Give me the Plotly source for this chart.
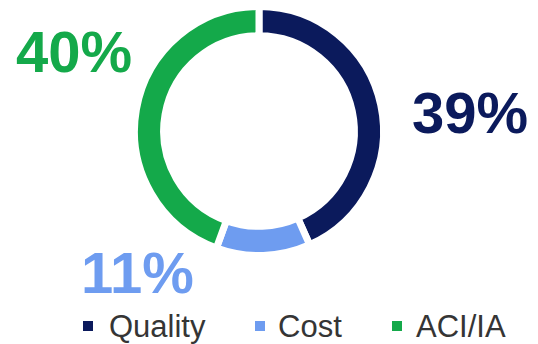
import plotly.graph_objects as go

# Share of focus areas
categories = ["Quality", "Cost", "ACI/IA"]
values = [39, 11, 40]
colors = ["#0b1a5c", "#6e9cf0", "#14a94a"]

W, H = 538, 344

# Where each percentage label sits (paper coordinates)
label_pos = {
    "Quality": (0.874, 0.674),
    "Cost": (0.255, 0.209),
    "ACI/IA": (0.138, 0.849),
}

# Legend row: swatch centre and text start, in pixels from the left
legend_swatch_x = {"Quality": 88, "Cost": 260, "ACI/IA": 397}
legend_text_x = {"Quality": 107, "Cost": 276, "ACI/IA": 414}
legend_y_px = 326
swatch_px = 10

fig = go.Figure(
    go.Pie(
        labels=categories,
        values=values,
        hole=0.766,
        sort=False,
        direction="clockwise",
        rotation=0,
        marker=dict(colors=colors, line=dict(color="white", width=7)),
        textinfo="none",
        hoverinfo="label+value",
        showlegend=False,
        domain=dict(x=[0.2500, 0.7128], y=[0.2558, 0.9826]),
    )
)

for cat, val, col in zip(categories, values, colors):
    x, y = label_pos[cat]
    fig.add_annotation(
        x=x, y=y, xref="paper", yref="paper",
        text=f"{val}%", showarrow=False,
        xanchor="center", yanchor="middle",
        font=dict(family="Liberation Sans, Arial, sans-serif", size=58, color=col, weight="bold"),
    )

# Legend drawn as colour swatches plus names
ly = 1 - legend_y_px / H
for cat, col in zip(categories, colors):
    cx = legend_swatch_x[cat] / W
    hw = swatch_px / 2 / W
    hh = swatch_px / 2 / H
    fig.add_shape(
        type="rect", xref="paper", yref="paper",
        x0=cx - hw, x1=cx + hw, y0=ly - hh, y1=ly + hh,
        fillcolor=col, line=dict(width=0),
    )
    fig.add_annotation(
        x=legend_text_x[cat] / W, y=ly, xref="paper", yref="paper",
        text=cat, showarrow=False,
        xanchor="left", yanchor="middle",
        font=dict(family="Liberation Sans, Arial, sans-serif", size=31, color="#353535"),
    )

fig.update_layout(
    width=W, height=H,
    margin=dict(l=0, r=0, t=0, b=0),
    paper_bgcolor="white",
    plot_bgcolor="white",
    showlegend=False,
)

fig.write_html("out.html")
